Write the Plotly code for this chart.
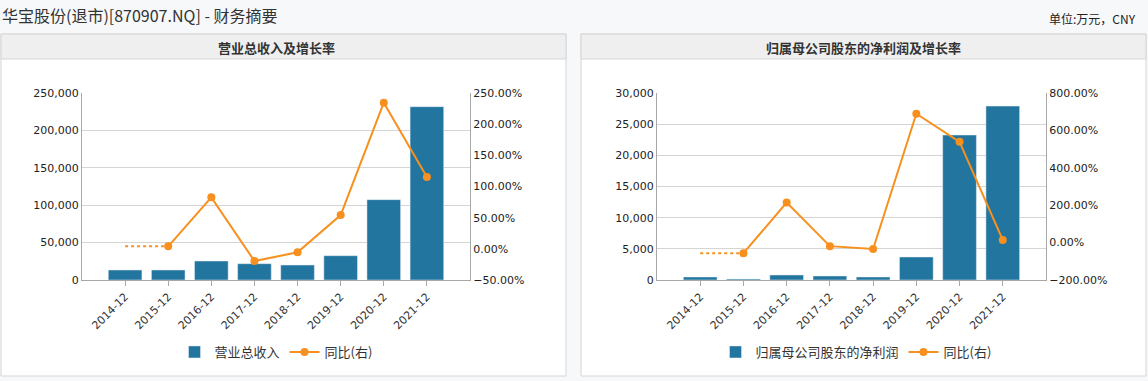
import plotly.graph_objects as go

categories = ["2014-12", "2015-12", "2016-12", "2017-12", "2018-12", "2019-12", "2020-12", "2021-12"]
revenue = [13400, 13400, 25400, 21800, 20000, 32500, 107400, 231700]
revenue_yoy = [None, 4.0, 82.6, -19.6, -5.6, 54.2, 234.4, 115.2]
profit = [480, 150, 800, 640, 480, 3690, 23260, 27900]
profit_yoy = [None, -56.8, 214.0, -19.0, -34.0, 689.0, 539.0, 14.0]

W, H = 1148, 381
BAR = "#22759F"
ORANGE = "#F7901E"
FONT = "DejaVu Sans, Noto Sans CJK SC, sans-serif"
CJK = "Noto Sans CJK SC, DejaVu Sans, sans-serif"

def px_x(x):
    return x / W

def px_y(y):
    return (H - y) / H

fig = go.Figure()

def add_panel(xa, ya, ya2, vals, yoy, bar_name, legend):
    fig.add_trace(go.Bar(x=categories, y=vals, name=bar_name, marker_color=BAR,
                         width=0.78, xaxis=xa, yaxis=ya, legend=legend,
                         hovertemplate="%{x}<br>%{y:,}<extra></extra>"))
    # dotted connector for missing first year growth
    first = next(i for i, v in enumerate(yoy) if v is not None)
    if first > 0:
        fig.add_trace(go.Scatter(x=categories[first - 1:first + 1], y=[yoy[first], yoy[first]],
                                 mode="lines", line=dict(color=ORANGE, width=2, dash="dot"),
                                 xaxis=xa, yaxis=ya2, showlegend=False, hoverinfo="skip"))
    fig.add_trace(go.Scatter(x=categories, y=yoy, name="同比(右)", mode="lines+markers",
                             line=dict(color=ORANGE, width=2), marker=dict(size=8, color=ORANGE),
                             xaxis=xa, yaxis=ya2, legend=legend,
                             hovertemplate="%{x}<br>%{y:.2f}%<extra></extra>"))

add_panel("x", "y", "y2", revenue, revenue_yoy, "营业总收入", "legend")
add_panel("x2", "y3", "y4", profit, profit_yoy, "归属母公司股东的净利润", "legend2")

ydom = [px_y(280), px_y(93)]
axis_line = "#A8A8A8"
tickfont = dict(family=FONT, size=11, color="#222")

def xaxis(dom, anchor):
    return dict(domain=dom, anchor=anchor, type="category", range=[-1, 8],
                showline=True, linecolor=axis_line, linewidth=1,
                ticks="outside", ticklen=5, tickcolor=axis_line,
                tickangle=-45, tickfont=dict(family=FONT, size=11, color="#333"),
                showgrid=False, fixedrange=True)

def yleft(anchor, rng, dtick):
    return dict(domain=ydom, anchor=anchor, range=rng, dtick=dtick, tickformat=",",
                showline=True, linecolor=axis_line, showgrid=True, gridcolor="#D4D4D4",
                zeroline=False, tickfont=tickfont, ticks="", fixedrange=True)

def yright(anchor, overlay, rng, dtick):
    return dict(domain=ydom, anchor=anchor, overlaying=overlay, side="right",
                range=rng, dtick=dtick, tickformat=".2f", ticksuffix="%",
                showline=True, linecolor=axis_line, showgrid=False, zeroline=False,
                tickfont=tickfont, ticks="", fixedrange=True)

left_dom = [px_x(82), px_x(470)]
right_dom = [px_x(657), px_x(1046)]

shapes = []
for x0, x1 in [(1, 566), (581, 1146)]:
    shapes.append(dict(type="rect", xref="paper", yref="paper", x0=px_x(x0), x1=px_x(x1),
                       y0=px_y(376), y1=px_y(34), fillcolor="white",
                       line=dict(color="#D6D6D6", width=1), layer="below"))
    shapes.append(dict(type="rect", xref="paper", yref="paper", x0=px_x(x0), x1=px_x(x1),
                       y0=px_y(59), y1=px_y(34), fillcolor="#EFEFEF",
                       line=dict(color="#D6D6D6", width=1), layer="below"))

annotations = [
    dict(text="华宝股份(退市)[870907.NQ] - 财务摘要", xref="paper", yref="paper",
         x=0, y=px_y(15), xanchor="left", yanchor="middle", showarrow=False,
         font=dict(family=CJK, size=16, color="#333")),
    dict(text="单位:万元，CNY", xref="paper", yref="paper",
         x=px_x(1138), y=px_y(19), xanchor="right", yanchor="middle", showarrow=False,
         font=dict(family=CJK, size=12, color="#222")),
    dict(text="<b>营业总收入及增长率</b>", xref="paper", yref="paper",
         x=px_x(276), y=px_y(47), xanchor="center", yanchor="middle", showarrow=False,
         font=dict(family=CJK, size=13, color="#333")),
    dict(text="<b>归属母公司股东的净利润及增长率</b>", xref="paper", yref="paper",
         x=px_x(863), y=px_y(47), xanchor="center", yanchor="middle", showarrow=False,
         font=dict(family=CJK, size=13, color="#333")),
]

legend_font = dict(family=CJK, size=13, color="#333")

fig.update_layout(
    width=W, height=H, margin=dict(l=0, r=0, t=0, b=0, autoexpand=False),
    paper_bgcolor="#F7F8FA", plot_bgcolor="rgba(0,0,0,0)",
    xaxis=xaxis(left_dom, "y"),
    yaxis=yleft("x", [0, 250000], 50000),
    yaxis2=yright("x", "y", [-50, 250], 50),
    xaxis2=xaxis(right_dom, "y3"),
    yaxis3=yleft("x2", [0, 30000], 5000),
    yaxis4=yright("x2", "y3", [-200, 800], 200),
    legend=dict(orientation="h", x=px_x(276), y=px_y(352), xanchor="center", yanchor="middle",
                font=legend_font, bgcolor="rgba(0,0,0,0)"),
    legend2=dict(orientation="h", x=px_x(856), y=px_y(352), xanchor="center", yanchor="middle",
                 font=legend_font, bgcolor="rgba(0,0,0,0)"),
    shapes=shapes, annotations=annotations, bargap=0.2, showlegend=True,
)

fig.write_html("out.html", config={"displayModeBar": False},
               post_script="document.body.style.margin='0';document.body.style.overflow='hidden';")
